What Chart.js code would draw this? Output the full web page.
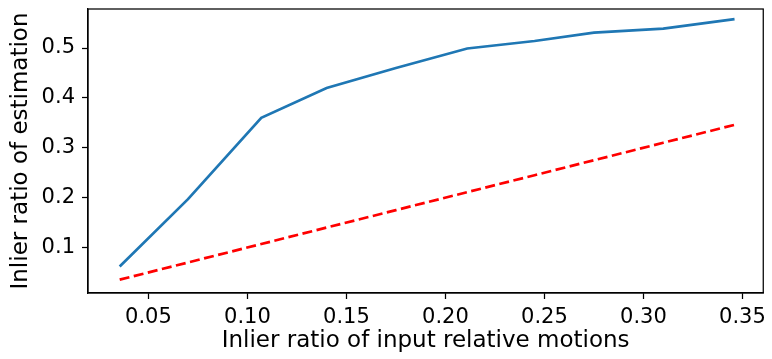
<!DOCTYPE html>
<html>
<head>
<meta charset="utf-8">
<script src="https://cdn.jsdelivr.net/npm/chart.js@4.4.0/dist/chart.umd.min.js"></script>
<style>
  html, body { margin: 0; padding: 0; background: #fff; }
  #wrap { width: 772px; height: 359px; }
</style>
</head>
<body>
<div id="wrap"><canvas id="ratioChart"></canvas></div>
<script>
// Inlier ratio chart data
const inputRatio = [0.0355, 0.070, 0.107, 0.140, 0.175, 0.211, 0.245, 0.275, 0.310, 0.346];
const estimatedRatio = [0.062, 0.197, 0.360, 0.420, 0.460, 0.499, 0.514, 0.531, 0.539, 0.558];
const baselineRatio = [0.0355, 0.070, 0.107, 0.140, 0.175, 0.211, 0.245, 0.275, 0.310, 0.346];
const xTicks = [0.05, 0.10, 0.15, 0.20, 0.25, 0.30, 0.35];
const yTicks = [0.1, 0.2, 0.3, 0.4, 0.5];

const toPoints = (xs, ys) => xs.map((x, i) => ({ x: x, y: ys[i] }));

// draws the full frame around the plot area
const frameBox = {
    id: 'frameBox',
    afterDraw(chart) {
        const a = chart.chartArea;
        const c = chart.ctx;
        c.save();
        c.strokeStyle = '#000';
        c.lineWidth = 1.25;
        c.strokeRect(a.left, a.top, a.right - a.left, a.bottom - a.top);
        c.restore();
    }
};

const tickFont = { family: 'DejaVu Sans', size: 21 };
const titleFont = { family: 'DejaVu Sans', size: 23 };

new Chart(document.getElementById('ratioChart'), {
    type: 'line',
    data: {
        datasets: [{
            data: toPoints(inputRatio, estimatedRatio),
            borderColor: '#1f77b4',
            borderWidth: 2.7,
            pointRadius: 0,
            tension: 0,
            fill: false
        }, {
            data: toPoints(inputRatio, baselineRatio),
            borderColor: '#ff0000',
            borderWidth: 2.7,
            borderDash: [10, 4.5],
            pointRadius: 0,
            tension: 0,
            fill: false
        }]
    },
    options: {
        responsive: true,
        maintainAspectRatio: false,
        animation: false,
        layout: { padding: { top: 9, right: 5, left: 0, bottom: 0 } },
        plugins: {
            legend: { display: false },
            tooltip: { enabled: false }
        },
        scales: {
            x: {
                type: 'linear',
                min: 0.0195,
                max: 0.3605,
                afterBuildTicks: s => { s.ticks = xTicks.map(v => ({ value: v })); },
                afterFit: s => { s.height = 66; },
                grid: { display: true, drawOnChartArea: false, drawTicks: true, tickLength: 6, color: '#000', tickWidth: 1.25 },
                border: { display: true, color: '#000', width: 1.25 },
                ticks: {
                    color: '#000',
                    font: tickFont,
                    padding: 6,
                    maxRotation: 0,
                    callback: v => v.toFixed(2)
                },
                title: {
                    display: true,
                    text: 'Inlier ratio of input relative motions',
                    color: '#000',
                    font: titleFont,
                    padding: { top: 0, bottom: 4 }
                }
            },
            y: {
                min: 0.0088,
                max: 0.5782,
                afterBuildTicks: s => { s.ticks = yTicks.map(v => ({ value: v })); },
                afterFit: s => { s.width = 88; s.paddingTop = 0; s.paddingBottom = 0; },
                grid: { display: true, drawOnChartArea: false, drawTicks: true, tickLength: 6, color: '#000', tickWidth: 1.25 },
                border: { display: true, color: '#000', width: 1.25 },
                ticks: {
                    color: '#000',
                    font: tickFont,
                    padding: 7,
                    callback: v => v.toFixed(1)
                },
                title: {
                    display: true,
                    text: 'Inlier ratio of estimation',
                    color: '#000',
                    font: titleFont,
                    padding: { top: 7, bottom: 4 }
                }
            }
        }
    },
    plugins: [frameBox]
});
</script>
</body>
</html>
